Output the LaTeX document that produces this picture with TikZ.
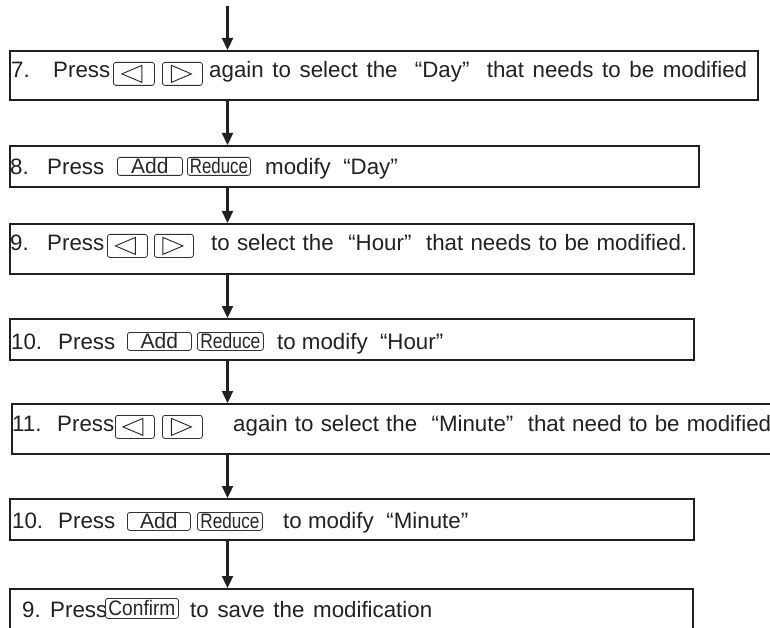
\documentclass[tikz,border=0pt]{standalone}
\usepackage{fontspec}
\setmainfont{Liberation Sans}
\usepackage{graphicx}
\usepackage{tikz}
\usetikzlibrary{arrows.meta,positioning}

\tikzset{
  stepbox/.style={draw=black!87,line width=1.7pt,anchor=north west,inner sep=0pt},
  keycap/.style={draw=black!80,line width=0.8pt,rounded corners=2.5pt,anchor=north west,inner sep=0pt,
    font=\fontsize{21}{21}\selectfont,text=black!85},
  keyline/.style={draw=black!85,line width=0.9pt,line join=miter},
  steptext/.style={anchor=base west,inner sep=0pt,font=\fontsize{22.3}{26}\selectfont,text=black!87},
  flow/.style={line width=2.3pt,draw=black!87,-{Triangle[length=12pt,width=11pt]}},
}
% text spread over a given width, or squeezed into it
\newcommand{\spreadw}[2]{\makebox[#1][s]{#2}}
\newcommand{\fitw}[2]{\resizebox{#1}{\height}{#2}}
% arrow keys
\newcommand{\lefttri}[1]{\draw[keyline] ([xshift=-12pt]#1.center) -- ++(20,-8.5) -- ++(0,17) -- cycle;}
\newcommand{\righttri}[1]{\draw[keyline] ([xshift=9pt]#1.center) -- ++(-20,-8.5) -- ++(0,17) -- cycle;}

\begin{document}
\begin{tikzpicture}[x=1pt,y=-1pt]
\useasboundingbox (0,0) rectangle (770,628);
\clip (0,0) rectangle (770,628);
\coordinate (entry) at (227.5,6);
% step 7
\node[stepbox,minimum width=748pt,minimum height=49pt] (s7) at (9,50) {};
\node[steptext] (n7) at (11,78) {7.};
\node[steptext] (p7) at (53,78) {Press};
\node[keycap,minimum width=41pt,minimum height=23pt] (l7) at (113,62) {};
\node[keycap,minimum width=40pt,minimum height=23pt] (r7) at (162,62) {};
\lefttri{l7} \righttri{r7}
\node[steptext] (t7) at (209,78) {\spreadw{538pt}{again to select the \ “Day” \ that needs to be modified}};
% step 8
\node[stepbox,minimum width=689pt,minimum height=41pt] (s8) at (9,145) {};
\node[steptext] (n8) at (10,175) {8.};
\node[steptext] (p8) at (47,175) {Press};
\node[keycap,minimum width=65pt,minimum height=18pt] (a8) at (117,157) {Add};
\node[keycap,minimum width=63pt,minimum height=18pt] (d8) at (187,157) {\fitw{58pt}{Reduce}};
\node[steptext] (t8) at (265,175) {modify \ “Day”};
% step 9
\node[stepbox,minimum width=684pt,minimum height=50pt] (s9) at (9,223) {};
\node[steptext] (n9) at (10,251) {9.};
\node[steptext] (p9) at (47,251) {Press};
\node[keycap,minimum width=40pt,minimum height=23pt] (l9) at (107,234) {};
\node[keycap,minimum width=39pt,minimum height=23pt] (r9) at (154,234) {};
\lefttri{l9} \righttri{r9}
\node[steptext] (t9) at (211,251) {\spreadw{476pt}{to select the \ “Hour” \ that needs to be modified.}};
% step 10
\node[stepbox,minimum width=684pt,minimum height=41pt] (s10) at (9,318) {};
\node[steptext] (n10) at (11,349) {10.};
\node[steptext] (p10) at (58,349) {Press};
\node[keycap,minimum width=64pt,minimum height=18pt] (a10) at (127,332) {Add};
\node[keycap,minimum width=66pt,minimum height=18pt] (d10) at (197,332) {\fitw{60pt}{Reduce}};
\node[steptext] (t10) at (277,349) {\spreadw{166pt}{to modify \ “Hour”}};
% step 11
\node[stepbox,minimum width=800pt,minimum height=50pt] (s11) at (11,403) {};
\node[steptext] (n11) at (12,431) {11.};
\node[steptext] (p11) at (57,431) {Press};
\node[keycap,minimum width=39pt,minimum height=23pt] (l11) at (115,415) {};
\node[keycap,minimum width=40pt,minimum height=23pt] (r11) at (162,415) {};
\lefttri{l11} \righttri{r11}
\node[steptext] (t11) at (233,431) {\spreadw{538pt}{again to select the \ “Minute” \ that need to be modified}};
% step 10 (minute)
\node[stepbox,minimum width=684pt,minimum height=41pt] (s12) at (9,498) {};
\node[steptext] (n12) at (12,528) {10.};
\node[steptext] (p12) at (58,528) {Press};
\node[keycap,minimum width=63pt,minimum height=18pt] (a12) at (127,512) {Add};
\node[keycap,minimum width=65pt,minimum height=18pt] (d12) at (197,512) {\fitw{59pt}{Reduce}};
\node[steptext] (t12) at (283,528) {\spreadw{185pt}{to modify \ “Minute”}};
% step 9 (confirm)
\node[stepbox,minimum width=683pt,minimum height=60pt] (s13) at (9,588) {};
\node[steptext] (n13) at (22,617) {9.};
\node[steptext] (p13) at (50,617) {Press};
\node[keycap,minimum width=73pt,minimum height=20pt] (c13) at (105,598) {\fitw{67pt}{Confirm}};
\node[steptext] (t13) at (190,617) {\spreadw{242pt}{to save the modification}};
% arrows
\draw[flow] (entry) -- (entry |- s7.north);
\draw[flow] (s7.south -| entry) -- (s8.north -| entry);
\draw[flow] (s8.south -| entry) -- (s9.north -| entry);
\draw[flow] (s9.south -| entry) -- (s10.north -| entry);
\draw[flow] (s10.south -| entry) -- (s11.north -| entry);
\draw[flow] (s11.south -| entry) -- (s12.north -| entry);
\draw[flow] (s12.south -| entry) -- (s13.north -| entry);
\end{tikzpicture}
\end{document}
